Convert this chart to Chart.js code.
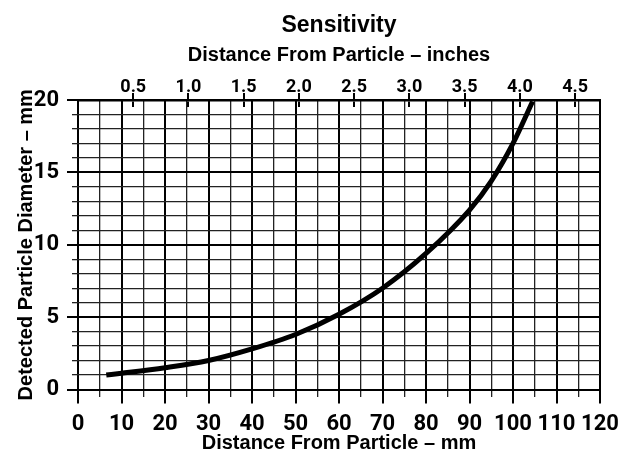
<!DOCTYPE html>
<html>
<head>
<meta charset="utf-8">
<script src="https://cdn.jsdelivr.net/npm/chart.js@4/dist/chart.umd.min.js"></script>
<style>
  html, body { margin: 0; padding: 0; background: #fff; }
  #wrap { width: 634px; height: 455px; }
</style>
</head>
<body>
<div id="wrap"><canvas id="c" width="634" height="455"></canvas></div>
<script>
// ---- data ----
const distanceMm  = [6.5, 10, 20, 30, 40, 50, 60, 70, 80, 90, 95, 100, 104.5];
const diameterMm  = [1.0, 1.12, 1.5, 2.0, 2.8, 3.8, 5.2, 7.0, 9.4, 12.4, 14.4, 17.0, 19.9];
const inchTicks   = [0.5, 1.0, 1.5, 2.0, 2.5, 3.0, 3.5, 4.0, 4.5];
const mmRange     = [0, 120];
const diaRange    = [0, 20];
const MM_PER_INCH = 25.4;

const NUMF = 'Roboto, "DejaVu Sans Condensed", sans-serif';
const SANS = '"Liberation Sans", Arial, Helvetica, sans-serif';

const isMajorX = ctx => ctx.tick && ctx.tick.value % 10 === 0;
const isMajorY = ctx => ctx.tick && ctx.tick.value % 5 === 0;

// inch-axis tick marks reach 7px into the plot: fade the grid line out after that
function innerTickColor(ctx) {
  const area = ctx.chart.chartArea;
  if (!area) return 'rgba(0,0,0,0)';
  const g = ctx.chart.ctx.createLinearGradient(0, area.top, 0, area.top + 7);
  g.addColorStop(0, '#000');
  g.addColorStop(0.999, '#000');
  g.addColorStop(1, 'rgba(0,0,0,0)');
  return g;
}

new Chart(document.getElementById('c'), {
  type: 'line',
  data: {
    datasets: [{
      data: distanceMm.map((x, i) => ({ x: x, y: diameterMm[i] })),
      borderColor: '#000',
      borderWidth: 5,
      pointRadius: 0,
      fill: false,
      cubicInterpolationMode: 'monotone',
      borderCapStyle: 'butt'
    }]
  },
  options: {
    responsive: false,
    animation: false,
    layout: { padding: { left: 0, right: 34, top: 0, bottom: 0 } },
    plugins: {
      legend: { display: false },
      tooltip: { enabled: false },
      title: {
        display: true,
        fullSize: false,
        text: 'Sensitivity',
        color: '#000',
        font: { family: SANS, size: 23, weight: 'bold' },
        padding: { top: 12, bottom: 0 }
      }
    },
    scales: {
      x: {
        type: 'linear',
        position: 'bottom',
        min: mmRange[0], max: mmRange[1],
        afterFit: s => { s.height = 65.5; },
        border: { display: false },
        grid: {
          color: ctx => isMajorX(ctx) ? '#000' : '#222',
          lineWidth: ctx => isMajorX(ctx) ? 2 : 1.3,
          tickLength: 14,
          tickBorderDash: ctx => isMajorX(ctx) ? [] : [7, 200],
          tickBorderDashOffset: 0
        },
        ticks: {
          stepSize: 5,
          autoSkip: false,
          maxRotation: 0,
          color: '#000',
          padding: 8,
          font: { family: NUMF, size: 22, weight: 'bold' },
          callback: v => (v % 10 === 0 ? String(v) : '')
        },
        title: {
          display: true,
          text: 'Distance From Particle – mm',
          color: '#000',
          font: { family: SANS, size: 20, weight: 'bold' },
          padding: { top: 0, bottom: 0 }
        }
      },
      x2: {
        type: 'linear',
        position: 'top',
        min: mmRange[0] / MM_PER_INCH, max: mmRange[1] / MM_PER_INCH,
        afterBuildTicks: s => { s.ticks = inchTicks.map(v => ({ value: v })); },
        afterFit: s => { s.height = 100 - 39.6; },
        border: { display: true, color: '#000', width: 2.5 },
        grid: {
          color: innerTickColor,
          tickColor: '#000',
          lineWidth: 2,
          tickLength: 7
        },
        ticks: {
          autoSkip: false,
          maxRotation: 0,
          color: '#000',
          padding: -5,
          font: { family: NUMF, size: 18, weight: 'bold' },
          callback: v => Number(v).toFixed(1)
        },
        title: {
          display: true,
          text: 'Distance From Particle – inches',
          color: '#000',
          font: { family: SANS, size: 20, weight: 'bold' },
          padding: { top: 4, bottom: 0 }
        }
      },
      y: {
        type: 'linear',
        position: 'left',
        min: diaRange[0], max: diaRange[1],
        afterFit: s => { s.width = 78; },
        border: { display: false },
        grid: {
          color: ctx => isMajorY(ctx) ? '#000' : '#222',
          lineWidth: ctx => isMajorY(ctx) ? 2 : 1.3,
          tickLength: 11,
          tickBorderDash: ctx => isMajorY(ctx) ? [] : [6, 200],
          tickBorderDashOffset: ctx => isMajorY(ctx) ? 0 : -5
        },
        ticks: {
          stepSize: 1,
          autoSkip: false,
          color: '#000',
          padding: 8,
          font: { family: NUMF, size: 22, weight: 'bold' },
          callback: v => (v % 5 === 0 ? String(v) : '')
        },
        title: {
          display: true,
          text: 'Detected Particle Diameter – mm',
          color: '#000',
          font: { family: SANS, size: 20, weight: 'bold' },
          padding: { top: 14, bottom: 0 }
        }
      }
    }
  }
});
</script>
</body>
</html>
